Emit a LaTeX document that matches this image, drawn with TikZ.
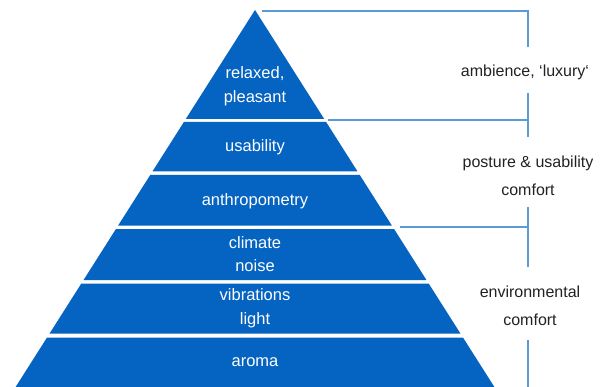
\documentclass[tikz,border=0pt]{standalone}
\usepackage{fontspec}
\setmainfont{Liberation Sans}
\definecolor{pyrblue}{HTML}{0563C1}
\definecolor{linkblue}{HTML}{5B9BD5}
\definecolor{labelgray}{HTML}{222222}
\begin{document}
\begin{tikzpicture}[x=1pt,y=-1pt,
  layer/.style={fill=pyrblue},
  intext/.style={text=white,font=\fontsize{16.5}{23.5}\selectfont,align=center,inner sep=0pt},
  sidetext/.style={text=labelgray,font=\fontsize{16}{28}\selectfont,align=center,inner sep=0pt},
  bracket/.style={draw=linkblue,line width=1.3pt}]
\useasboundingbox (0,0) rectangle (609,387);
% one horizontal slice of the pyramid, between two heights
\newcommand\pyrband[2]{\fill[layer] ({255-(#1-10)*0.635},#1) -- ({255+(#1-10)*0.635},#1)
  -- ({255+(#2-10)*0.635},#2) -- ({255-(#2-10)*0.635},#2) -- cycle;}
\pyrband{10}{119}
\pyrband{122}{171.5}
\pyrband{175}{225.5}
\pyrband{229}{280}
\pyrband{283.5}{333.5}
\pyrband{337.5}{387}

% level labels
\node[intext] (relaxed) at (255,86) {relaxed,\\pleasant};
\node[intext] (usab) at (255,147) {usability};
\node[intext] (anthro) at (255,201) {anthropometry};
\node[intext] (climate) at (255,254) {climate\\noise};
\node[intext] (vibr) at (255,308) {vibrations\\light};
\node[intext] (aroma) at (255,362) {aroma};

% group labels
\node[sidetext] (ambience) at (525,72) {ambience, ‘luxury‘};
\node[sidetext] (posture) at (528,176) {posture \& usability\\comfort};
\node[sidetext] (environ) at (530,306) {environmental\\comfort};

% bracket geometry
\coordinate (apexR) at (262,11);
\coordinate (c1) at (528,11);
\coordinate (g1a) at (528,47);
\coordinate (g1b) at (528,93);
\coordinate (s1) at (328,120);
\coordinate (j1) at (528,120);
\coordinate (g2a) at (528,137);
\coordinate (g2b) at (528,207);
\coordinate (s2) at (400,227);
\coordinate (j2) at (528,227);
\coordinate (g3a) at (528,267);
\coordinate (g3b) at (528,340);
\coordinate (bot) at (528,387);

\draw[bracket] (apexR) -- (c1) -- (g1a);
\draw[bracket] (g1b) -- (g2a);
\draw[bracket] (s1) -- (j1);
\draw[bracket] (g2b) -- (g3a);
\draw[bracket] (s2) -- (j2);
\draw[bracket] (g3b) -- (bot);
\end{tikzpicture}
\end{document}
